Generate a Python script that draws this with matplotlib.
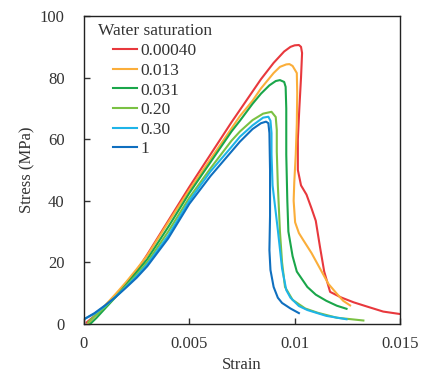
import matplotlib
matplotlib.use("Agg")
import matplotlib.pyplot as plt

plt.rcParams['font.family'] = ['Liberation Serif', 'DejaVu Serif']

# stress-strain curves, one per water saturation
labels = ["0.00040", "0.013", "0.031", "0.20", "0.30", "1"]
colors = ["#E8383D", "#FBAE3A", "#1AA64A", "#7AC143", "#1EB4E8", "#0F6FBF"]

strain_a = [0.00013, 0.0005, 0.001, 0.0015, 0.002, 0.0025, 0.003, 0.004, 0.005, 0.006, 0.007,
            0.0074, 0.008, 0.0084, 0.009, 0.0095, 0.0098, 0.01, 0.0102, 0.0103, 0.01035,
            0.0103, 0.01022, 0.01015, 0.01015, 0.0103, 0.01056, 0.0108, 0.011, 0.0112, 0.0114,
            0.01168, 0.0122, 0.0128, 0.0134, 0.0142, 0.015]
stress_a = [0.5, 2.6, 5.8, 9.3, 13.2, 17.3, 22.5, 33.5, 44.5, 55, 65.5,
            69.5, 75.5, 79.5, 84.8, 88.5, 90, 90.5, 90.6, 90, 88,
            80, 70, 60, 50, 45, 42, 37.5, 33.5, 25, 17,
            10.4, 8.6, 7.0, 5.7, 4.0, 3.2]

strain_b = [0.0002, 0.0005, 0.001, 0.0015, 0.002, 0.0025, 0.003, 0.004, 0.005, 0.006, 0.007,
            0.0074, 0.008, 0.0084, 0.009, 0.0093, 0.0096, 0.00975, 0.0099, 0.0101,
            0.01012, 0.0101, 0.01005, 0.00998, 0.00995, 0.01002, 0.0102, 0.0104, 0.0108,
            0.0112, 0.0116, 0.012, 0.0123, 0.01263]
stress_b = [0, 2.5, 6, 9.7, 13.6, 17.8, 22.2, 33, 43.5, 53.5, 63.5,
            67.5, 72.5, 76.5, 81.5, 83.5, 84.3, 84.4, 83.8, 81.5,
            75, 65, 55, 46, 40, 33, 29.5, 27.3, 23,
            18, 13, 9.8, 7.5, 6]

strain_c = [0.0003, 0.0006, 0.001, 0.0015, 0.002, 0.0025, 0.003, 0.004, 0.005, 0.006, 0.007,
            0.0074, 0.008, 0.0084, 0.0088, 0.0091, 0.0093, 0.0095, 0.00957, 0.0096, 0.0096,
            0.00965, 0.0097, 0.0099, 0.0101, 0.0106, 0.011, 0.0115, 0.012, 0.01246]
stress_c = [0, 2, 5, 8.7, 12.7, 16.8, 21, 31.5, 42.5, 52.5, 62.5,
            66, 71.5, 74.8, 77.5, 78.9, 79.2, 78.6, 77, 70, 55,
            40, 30, 22, 17, 12, 9.5, 7.5, 5.9, 4.9]

strain_d = [0.0002, 0.0005, 0.001, 0.0015, 0.002, 0.0025, 0.003, 0.004, 0.005, 0.006, 0.007,
            0.0074, 0.008, 0.0085, 0.0089, 0.0091, 0.00915, 0.00915, 0.0092, 0.0093, 0.0094,
            0.00954, 0.0099, 0.0105, 0.0111, 0.012, 0.01326]
stress_d = [0.5, 2.5, 5.5, 8.8, 12.3, 16, 20, 30, 41, 50.5, 59.5,
            62.5, 66.2, 68.3, 68.9, 67.2, 63, 56, 45, 30, 20,
            12, 7.8, 5, 3.6, 2, 1.1]

strain_e = [0, 0.0005, 0.001, 0.0015, 0.002, 0.0025, 0.003, 0.004, 0.005, 0.006, 0.007,
            0.0074, 0.008, 0.0085, 0.00875, 0.00885, 0.0089, 0.0089, 0.00895, 0.0092, 0.0094,
            0.0096, 0.0098, 0.0102, 0.0106, 0.0115, 0.01246]
stress_e = [1.5, 3.3, 5.8, 8.8, 12, 15.5, 19.3, 28.7, 40, 49.5, 57.5,
            60.8, 64.5, 67, 67.3, 66, 62, 55, 45, 30.5, 18,
            11, 8.5, 5.8, 4.5, 2.6, 1.5]

strain_f = [0, 0.0005, 0.001, 0.0015, 0.002, 0.0025, 0.003, 0.004, 0.005, 0.006, 0.007,
            0.0074, 0.008, 0.0084, 0.00864, 0.00875, 0.0088, 0.00883, 0.00883, 0.0088, 0.00885,
            0.009, 0.0092, 0.0094, 0.0098, 0.0102]
stress_f = [1.5, 3.5, 6, 8.7, 11.8, 15, 18.7, 27.8, 39, 48, 56,
            59.2, 63.3, 65.2, 65.7, 65.2, 62, 50, 35, 24, 17.5,
            12, 8.5, 6.8, 5, 3.5]

strains = [strain_a, strain_b, strain_c, strain_d, strain_e, strain_f]
stresses = [stress_a, stress_b, stress_c, stress_d, stress_e, stress_f]

fig = plt.figure(figsize=(4.22, 3.74), dpi=100)
ax = fig.add_axes([0.199, 0.134, 0.749, 0.823])

for x, y, c, lab in zip(strains, stresses, colors, labels):
    ax.plot(x, y, color=c, lw=1.5, label=lab, solid_joinstyle="round")

ax.set_xlim(0, 0.015)
ax.set_ylim(0, 100)
ax.set_xticks([0, 0.005, 0.01, 0.015])
ax.set_xticklabels(["0", "0.005", "0.01", "0.015"])
ax.set_yticks([0, 20, 40, 60, 80, 100])
ax.tick_params(direction="in", length=4, width=1, labelsize=12, colors="#333333")
ax.tick_params(axis="y", pad=14)
ax.tick_params(axis="x", pad=9)
for s in ax.spines.values():
    s.set_linewidth(1.0)
    s.set_color("#222222")

ax.set_xlabel("Strain", fontsize=12, labelpad=3, color="#333333")
ax.set_ylabel("Stress (MPa)", fontsize=12, labelpad=3, color="#333333")

ax.text(0.044, 0.95, "Water saturation", transform=ax.transAxes,
        fontsize=12.5, va="center", ha="left", color="#333333")
leg = ax.legend(loc="upper left", bbox_to_anchor=(0.092, 0.912), frameon=False,
                fontsize=12.5, handlelength=1.4, handletextpad=0.15,
                labelspacing=0.2, borderpad=0, borderaxespad=0)
for t in leg.get_texts():
    t.set_color("#333333")

fig.savefig("out.png", dpi=100)
